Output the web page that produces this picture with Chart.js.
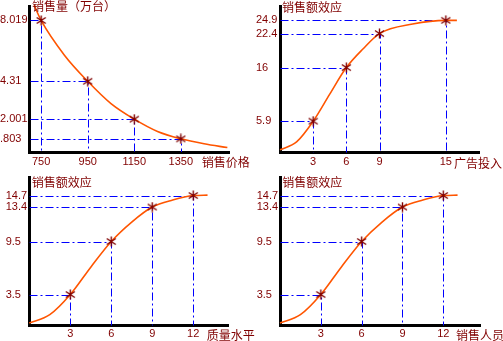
<!DOCTYPE html>
<html><head><meta charset="utf-8">
<script src="https://cdn.jsdelivr.net/npm/chart.js@4"></script>
<style>
html,body{margin:0;padding:0;background:#fff;}
#wrap{position:relative;width:503px;height:341px;overflow:hidden;background:#fff;}
#wrap canvas{position:absolute;left:0;top:0;}
</style></head><body>
<div id="wrap">
<canvas id="c1" width="503" height="341"></canvas>
<canvas id="c2" width="503" height="341"></canvas>
<canvas id="c3" width="503" height="341"></canvas>
<canvas id="c4" width="503" height="341"></canvas>
</div>
<script>
// ---- Panel 1: price vs sales volume ----
const priceTicks = [750, 950, 1150, 1350];
const priceTickLabels = ['750', '950', '1150', '1350'];
const volumeValues = [8.019, 4.31, 2.001, 0.803];
const volumeLabels = ['8.019', '4.31', '2.001', '.803'];
const priceCurveX = [720, 750, 850, 950, 1050, 1150, 1250, 1350, 1450, 1550];
const priceCurveY = [8.95, 8.019, 5.9, 4.31, 2.95, 2.001, 1.25, 0.803, 0.5, 0.27];

// ---- Panel 2: advertising ----
const adTicks = [3, 6, 9, 15];
const adTickLabels = ['3', '6', '9', '15'];
const adValues = [5.9, 16, 22.4, 24.9];
const adLabels = ['5.9', '16', '22.4', '24.9'];
const adCurveX = [0, 1.5, 3, 4.5, 6, 7.5, 9, 12, 15, 16];
const adCurveY = [0.5, 2.0, 5.9, 11, 16, 19.5, 22.4, 24.2, 24.9, 24.9];

// ---- Panel 3: quality level ----
const qualityTicks = [3, 6, 9, 12];
const qualityTickLabels = ['3', '6', '9', '12'];
const qualityValues = [3.5, 9.5, 13.4, 14.7];
const qualityLabels = ['3.5', '9.5', '13.4', '14.7'];
const qualityCurveX = [0, 1.5, 3, 4.5, 6, 7.5, 9, 10.5, 12, 13.05];
const qualityCurveY = [0.28, 1.22, 3.5, 6.6, 9.5, 11.7, 13.4, 14.2, 14.7, 14.75];

// ---- Panel 4: sales staff ----
const staffTicks = [3, 6, 9, 12];
const staffTickLabels = ['3', '6', '9', '12'];
const staffValues = [3.5, 9.5, 13.4, 14.7];
const staffLabels = ['3.5', '9.5', '13.4', '14.7'];
const staffCurveX = [0, 1.5, 3, 4.5, 6, 7.5, 9, 10.5, 12, 13.05];
const staffCurveY = [0.28, 1.22, 3.5, 6.6, 9.5, 11.7, 13.4, 14.2, 14.7, 14.75];

const TICK_FONT = { family: '"Liberation Sans", Arial, sans-serif', size: 11 };
const CJK_FONT = '12px "Noto Sans CJK SC", sans-serif';
const RED = '#800000';

function starImg() {
  const c = document.createElement('canvas');
  c.width = 11; c.height = 11;
  const g = c.getContext('2d');
  g.strokeStyle = '#800000'; g.lineWidth = 1.4;
  g.beginPath();
  g.moveTo(5.5, 0.5); g.lineTo(5.5, 10.5);
  g.moveTo(1, 2.5); g.lineTo(10, 8.5);
  g.moveTo(1, 8.5); g.lineTo(10, 2.5);
  g.stroke();
  return c;
}
const STAR = starImg();

const titlePlugin = {
  id: 'panelTitles',
  afterDraw(chart, args, o) {
    const ctx = chart.ctx, a = chart.chartArea;
    ctx.save();
    ctx.fillStyle = RED;
    ctx.font = CJK_FONT;
    ctx.textBaseline = 'middle';
    ctx.textAlign = 'left';
    ctx.fillText(o.yText, a.left + o.yDx, a.top + o.yDy);
    ctx.fillText(o.xText, a.right + o.xDx, a.bottom + o.xDy);
    ctx.restore();
  }
};

// snap the guide lines (positions come from the scales) onto the pixel grid so they stay crisp
const snapPlugin = {
  id: 'snapGuides',
  afterDatasetsUpdate(chart) {
    chart.data.datasets.forEach((ds, i) => {
      if (!ds.isGuide) return;
      chart.getDatasetMeta(i).data.forEach(p => {
        p.x = Math.round(p.x) + 0.5;
        p.y = Math.round(p.y) + 0.5;
      });
    });
  }
};

function makePanel(id, o) {
  const markers = o.xs.map((x, i) => ({ x: x, y: o.ys[i] }));
  const curve = o.cx.map((x, i) => ({ x: x, y: o.cy[i] }));
  const guides = o.xs.map((x, i) => ({
    isGuide: true,
    data: [{ x: o.xMin, y: o.ys[i] }, { x: x, y: o.ys[i] }, { x: x, y: 0 }],
    showLine: true, borderColor: '#0000ff', borderWidth: 1,
    borderDash: [8, 3, 2, 3], pointRadius: 0, tension: 0, fill: false
  }));
  new Chart(document.getElementById(id), {
    type: 'scatter',
    data: {
      datasets: [
        { data: markers, showLine: false, pointStyle: STAR, pointRadius: 5, clip: false },
        { data: curve, showLine: true, borderColor: '#ff5500', borderWidth: 1.6,
          pointRadius: 0, cubicInterpolationMode: 'monotone', fill: false, clip: false }
      ].concat(guides)
    },
    options: {
      responsive: false, animation: false, events: [],
      layout: { padding: o.pad },
      plugins: { legend: { display: false }, tooltip: { enabled: false }, panelTitles: o.titles },
      scales: {
        x: {
          type: 'linear', min: o.xMin, max: o.xMax,
          grid: { display: false, drawTicks: false },
          border: { display: true, color: '#000', width: 3 },
          afterBuildTicks: s => { s.ticks = o.xTicks.map(v => ({ value: v })); },
          afterFit: s => { s.height = o.xh; },
          ticks: { autoSkip: false, maxRotation: 0, minRotation: 0, padding: o.xPad,
                   color: RED, font: TICK_FONT, callback: (v, i) => o.xLabels[i] }
        },
        y: {
          type: 'linear', min: 0, max: o.yMax,
          grid: { display: false, drawTicks: false },
          border: { display: true, color: '#000', width: 3 },
          afterBuildTicks: s => { s.ticks = o.ys.map(v => ({ value: v })); },
          afterFit: s => { s.width = o.yw; },
          ticks: { autoSkip: false, padding: 0, crossAlign: 'far', color: RED,
                   font: Object.assign({}, TICK_FONT, { lineHeight: 0.8 }),
                   callback: (v, i) => o.yLabels[i] }
        }
      }
    },
    plugins: [titlePlugin, snapPlugin]
  });
}

makePanel('c1', {
  xs: priceTicks, ys: volumeValues, cx: priceCurveX, cy: priceCurveY,
  xTicks: priceTicks, xLabels: priceTickLabels, yLabels: volumeLabels,
  xMin: 700, xMax: 1557, yMax: 8.9,
  pad: { left: 0, right: 274, top: 6, bottom: 171 }, yw: 29.5, xh: 18, xPad: 3,
  titles: { yText: '销售量（万台）', yDx: 2.5, yDy: 0, xText: '销售价格', xDx: -27.3, xDy: 10 }
});
makePanel('c2', {
  xs: adTicks, ys: adValues, cx: adCurveX, cy: adCurveY,
  xTicks: adTicks, xLabels: adTickLabels, yLabels: adLabels,
  xMin: 0, xMax: 18, yMax: 27.6,
  pad: { left: 256, right: 24, top: 5, bottom: 170.5 }, yw: 24, xh: 18, xPad: 3,
  titles: { yText: '销售额效应', yDx: 2, yDy: 1.2, xText: '广告投入', xDx: -25, xDy: 11 }
});
makePanel('c3', {
  xs: qualityTicks, ys: qualityValues, cx: qualityCurveX, cy: qualityCurveY,
  xTicks: qualityTicks, xLabels: qualityTickLabels, yLabels: qualityLabels,
  xMin: 0, xMax: 14.6, yMax: 16.8,
  pad: { left: 5.7, right: 274.3, top: 177, bottom: 0 }, yw: 23.6, xh: 15.5, xPad: 1.5,
  titles: { yText: '销售额效应', yDx: 2.4, yDy: 5.3, xText: '质量水平', xDx: -22, xDy: 10 }
});
makePanel('c4', {
  xs: staffTicks, ys: staffValues, cx: staffCurveX, cy: staffCurveY,
  xTicks: staffTicks, xLabels: staffTickLabels, yLabels: staffLabels,
  xMin: 0, xMax: 14.7, yMax: 16.8,
  pad: { left: 256.7, right: 23, top: 177, bottom: 0 }, yw: 23.3, xh: 15.5, xPad: 1.5,
  titles: { yText: '销售额效应', yDx: 2.3, yDy: 5.8, xText: '销售人员', xDx: -24, xDy: 10 }
});
</script>
</body></html>
